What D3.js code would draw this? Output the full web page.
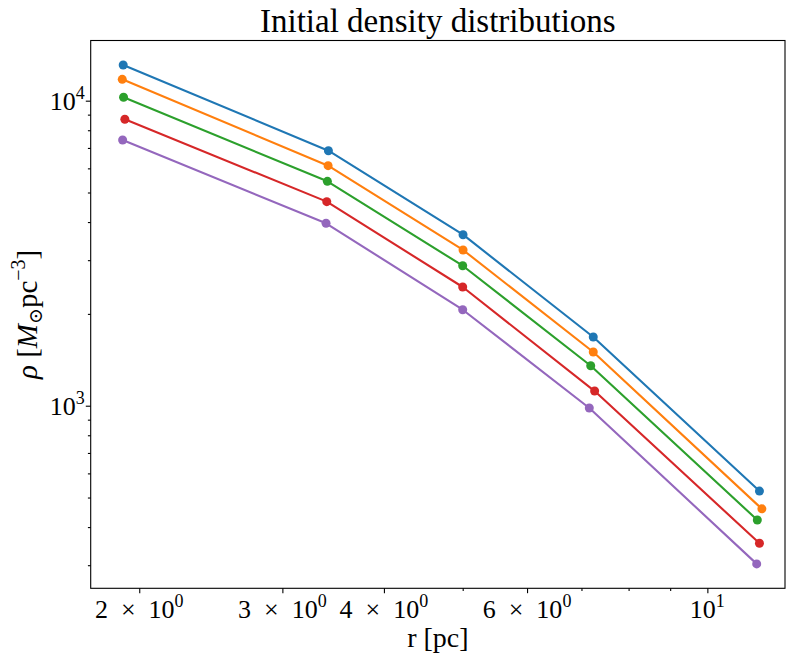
<!DOCTYPE html>
<html><head><meta charset="utf-8">
<script src="https://cdn.jsdelivr.net/npm/d3@7"></script>
<style>
body{margin:0;background:#fff;}
text{font-family:"Liberation Serif","DejaVu Serif",serif;fill:#000;}
</style></head>
<body><svg id="chart" width="787" height="659"></svg>
<script>
// ---- data ----
const seriesColors = ["#1f77b4","#ff7f0e","#2ca02c","#d62728","#9467bd"];
const r1 = [1.911, 3.418, 5.005, 7.238, 11.59];
const rho1 = [13090, 6855, 3636, 1680, 525];
const r2 = [1.906, 3.415, 5.005, 7.238, 11.67];
const rho2 = [11750, 6122, 3240, 1500, 459];
const r3 = [1.913, 3.408, 5.000, 7.186, 11.52];
const rho3 = [10260, 5440, 2877, 1352, 422];
const r4 = [1.920, 3.402, 5.000, 7.266, 11.59];
const rho4 = [8690, 4667, 2450, 1117, 354];
const r5 = [1.908, 3.395, 5.000, 7.157, 11.50];
const rho5 = [7431, 3963, 2064, 983, 303];
const xMajorTicks = [2, 3, 4, 6, 10];
const xMajorLabels = [["2\u2002×\u200210","0"],["3\u2002×\u200210","0"],["4\u2002×\u200210","0"],["6\u2002×\u200210","0"],["10","1"]];
const xMinorTicks = [5, 7, 8, 9];
const yMajorTicks = [1000, 10000];
const yMajorLabels = [["10","3"],["10","4"]];
const yMinorTicks = [300,400,500,600,700,800,900,2000,3000,4000,5000,6000,7000,8000,9000];
const titleText = "Initial density distributions";

const seriesR = [r1,r2,r3,r4,r5];
const seriesRho = [rho1,rho2,rho3,rho4,rho5];

// ---- layout ----
const L = 90.7, R = 785, T = 40.5, B = 588.3;
const svg = d3.select("#chart");
const x = d3.scaleLog().domain([1.743, 12.46]).range([L, R]);
const y = d3.scaleLog().domain([252, 15750]).range([B, T]);

// lines + points
const line = d3.line().x(d => x(d[0])).y(d => y(d[1]));
seriesR.forEach((rs, i) => {
  const pts = rs.map((r, j) => [r, seriesRho[i][j]]);
  svg.append("path").datum(pts).attr("d", line)
    .attr("fill","none").attr("stroke", seriesColors[i]).attr("stroke-width", 2.1)
    .attr("stroke-linejoin","round");
  svg.append("g").selectAll("circle").data(pts).join("circle")
    .attr("cx", d => x(d[0])).attr("cy", d => y(d[1])).attr("r", 4.5)
    .attr("fill", seriesColors[i]);
});

// x axis
const gx = svg.append("g").attr("transform", `translate(0,${B})`);
gx.call(d3.axisBottom(x).tickValues(xMajorTicks).tickSize(4.9).tickFormat(""));
gx.append("g").call(d3.axisBottom(x).tickValues(xMinorTicks).tickSize(2.8).tickFormat(""));
gx.selectAll("path.domain").remove();
gx.selectAll("line").attr("stroke","#000").attr("stroke-width",1.1);
xMajorTicks.forEach((v, i) => {
  const t = svg.append("text").attr("x", x(v)).attr("y", B + 30)
    .attr("text-anchor","middle").attr("font-size", 26);
  t.append("tspan").text(xMajorLabels[i][0]);
  t.append("tspan").attr("dy", -11).attr("font-size", 18).text(xMajorLabels[i][1]);
});

// y axis
const gy = svg.append("g").attr("transform", `translate(${L},0)`);
gy.call(d3.axisLeft(y).tickValues(yMajorTicks).tickSize(4.9).tickFormat(""));
gy.append("g").call(d3.axisLeft(y).tickValues(yMinorTicks).tickSize(2.8).tickFormat(""));
gy.selectAll("path.domain").remove();
gy.selectAll("line").attr("stroke","#000").attr("stroke-width",1.1);
yMajorTicks.forEach((v, i) => {
  const t = svg.append("text").attr("x", L - 6).attr("y", y(v) + 9)
    .attr("text-anchor","end").attr("font-size", 26);
  t.append("tspan").text(yMajorLabels[i][0]);
  t.append("tspan").attr("dy", -11).attr("font-size", 18).text(yMajorLabels[i][1]);
});

// frame
svg.append("rect").attr("x", L).attr("y", T).attr("width", R - L).attr("height", B - T)
  .attr("fill","none").attr("stroke","#000").attr("stroke-width",1.1);

// title
svg.append("text").attr("x", (L + R) / 2).attr("y", 32).attr("text-anchor","middle")
  .attr("font-size", 33).text(titleText);

// x label
svg.append("text").attr("x", (L + R) / 2).attr("y", 647).attr("text-anchor","middle")
  .attr("font-size", 28).text("r [pc]");

// y label
const yl = svg.append("text").attr("transform", `translate(37,${(T + B) / 2}) rotate(-90)`)
  .attr("text-anchor","middle").attr("font-size", 29);
yl.append("tspan").attr("font-style","italic").text("ρ");
yl.append("tspan").text(" [");
yl.append("tspan").attr("font-style","italic").text("M");
yl.append("tspan").attr("dy", 5).attr("font-size", 19).text("⊙");
yl.append("tspan").attr("dy", -5).text("pc");
yl.append("tspan").attr("dy", -12).attr("font-size", 20).text("−3");
yl.append("tspan").attr("dy", 12).text("]");
</script></body></html>
